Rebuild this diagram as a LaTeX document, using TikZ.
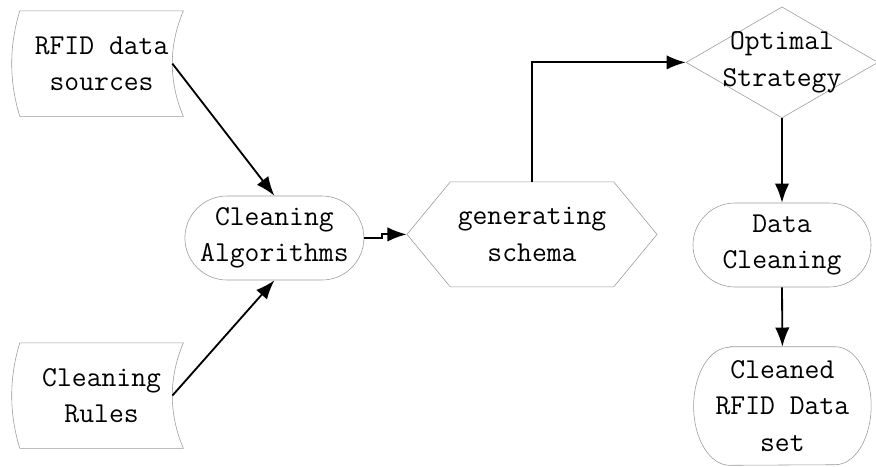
\documentclass[tikz,border=0pt]{standalone}
\usetikzlibrary{arrows.meta,shapes.geometric,shapes.misc,shapes.symbols}
\tikzset{
  outline/.style={draw=gray!80,line width=0.4pt},
  txt/.style={font=\fontsize{20.5}{26}\selectfont\ttfamily,align=center,inner sep=0pt},
  store/.style={txt,minimum width=4.075cm,minimum height=2.625cm},
  terminal/.style={txt,outline,rounded rectangle,minimum width=4.45cm,minimum height=2.1cm},
  process/.style={txt,outline,signal,signal to=west and east,signal pointer angle=101,minimum width=6.25cm,minimum height=2.625cm},
  decision/.style={outline,diamond,minimum width=4.8cm,minimum height=2.775cm,inner sep=0pt},
  flow/.style={->,line width=1.3pt}
}
\begin{document}
\begin{tikzpicture}[>={Latex[length=4.8mm,width=3.6mm]}]
	\useasboundingbox (0,0) rectangle (21.9,-11.65);
	% data stores on the left
	\node[store] (src) at (2.54,-1.59) {RFID data\\sources};
	\node[store] (rules) at (2.54,-9.89) {Cleaning\\Rules};
	\foreach \n in {src,rules}{
		\draw[outline] (\n.north west) .. controls +(-0.27,-0.875) and +(-0.27,0.875) .. (\n.south west)
			-- (\n.south east) .. controls +(-0.37,0.875) and +(-0.37,-0.875) .. (\n.north east) -- cycle;
		\coordinate (\n-out) at ([xshift=-0.275cm]\n.east);
	}
	\node[terminal,minimum width=4.475cm] (alg) at (6.86,-5.95) {Cleaning\\Algorithms};
	\node[process] (schema) at (13.3,-5.86) {generating\\schema};
	\node[decision,label={[txt]center:Optimal\\Strategy}] (opt) at (19.55,-1.56) {};
	\node[terminal] (clean) at (19.55,-6.125) {Data\\Cleaning};
	% last one has flatter ends
	\node[txt,minimum width=4.425cm,minimum height=2.95cm] (set) at (19.56,-10.15) {Cleaned\\RFID Data\\set};
	\draw[outline] ([xshift=0.9cm]set.north west) -- ([xshift=-0.9cm]set.north east)
		arc[start angle=90,end angle=-90,x radius=0.9cm,y radius=1.475cm]
		-- ([xshift=0.9cm]set.south west)
		arc[start angle=270,end angle=90,x radius=0.9cm,y radius=1.475cm] -- cycle;
	% connectors
	\draw[flow] (src-out) -- (alg.north);
	\draw[flow] (rules-out) -- (alg.south);
	\draw[flow] (alg.east) -- ++(0.45,0) |- (schema.west);
	\draw[flow] (schema.north) |- (opt.west);
	\draw[flow] (opt.south) -- (clean.north);
	\draw[flow] (clean.south) -- (set.north);
\end{tikzpicture}
\end{document}
